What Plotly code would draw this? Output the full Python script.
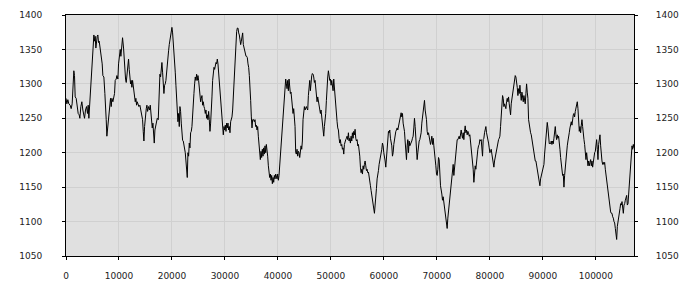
import plotly.graph_objects as go

# ---- values ----
seg1_x = [0,158,347,536,787,976,1165,1354,1480,1606,
          1732,1921,2110,2299,2488,2614,2802,2991,3180,3306,
          3495,3684,3873,4062,4188,4314,4440,4566,4755,4943,
          5132,5258,5384,5510,5636,5762,5888,6014,6140,6266,
          6392,6518,6644,6833,6958,7147,7336,7462,7588,7714,
          7840,8029,8218,8407,8533,8659,8848,8974,9162,9288,
          9477,9603,9792,9918,10107,10233,10359,10548,10674,10863,
          10989,11114,11240,11366,11492,11681,11807,11933,12059,12185,
          12311,12437,12563,12689,12815,12941,13067,13193,13318,13444,
          13633,13759,13948,14137,14326,14452,14578,14704,14830,14956,
          15145,15271,15396,15585,15774,15900,16026,16152,16278,16404,
          16530,16656,16782,16908,17097,17223,17411]
seg1_y = [1279,1271,1277,1271,1269,1264,1271,1300,1319,1312,
          1281,1279,1269,1257,1255,1250,1267,1274,1262,1255,
          1250,1262,1267,1257,1269,1250,1267,1286,1310,1333,
          1350,1371,1362,1369,1352,1364,1369,1371,1360,1362,
          1355,1348,1338,1329,1312,1310,1286,1271,1248,1224,
          1236,1248,1267,1279,1267,1279,1274,1281,1286,1305,
          1307,1312,1307,1329,1343,1350,1340,1362,1367,1352,
          1329,1310,1307,1302,1314,1329,1336,1321,1307,1300,
          1305,1295,1305,1298,1290,1286,1274,1279,1269,1274,
          1271,1267,1269,1262,1257,1248,1231,1217,1238,1252,
          1264,1269,1260,1267,1262,1269,1257,1248,1236,1243,
          1224,1214,1233,1240,1243,1250,1248]

seg2_x = [17473,17599,17725,17851,17977,18103,18229,18355,18480,18606,
          18732,18858,18984,19110,19236,19362,19488,19614,19740,19866,
          19992,20118,20244,20370,20496,20621,20747,20873,20999,21125,
          21251,21377,21503,21629,21755,21881,22007,22133,22259,22385,
          22511,22636,22762,22888,23014,23140,23266,23392,23518,23644,
          23770,23896,24022,24148,24274,24400,24526,24652,24777,24903,
          25029,25155,25281,25407,25533,25659,25785,25911,26037,26163,
          26289,26415,26541,26667,26792,26918,27044,27170,27296,27422,
          27548,27674,27800,27926,28052,28178,28304,28430,28556,28682,
          28808,28933,29059,29185,29311,29437,29563,29689,29815,29941,
          30067,30193,30319,30445,30571,30697,30823,30948,31074,31200,
          31326,31452,31578,31704,31830,31956,32082,32208,32334,32460,
          32586,32712,32838,32964,33089,33215,33341,33467,33593,33719,
          33845,33971,34097,34223,34349,34475,34601,34727,34853,34979,
          35105,35230]
seg2_y = [1262,1286,1314,1310,1324,1331,1317,1305,1286,1298,
          1300,1305,1319,1333,1338,1348,1357,1364,1371,1379,
          1382,1374,1362,1352,1338,1317,1298,1283,1264,1245,
          1257,1238,1267,1260,1243,1219,1218,1217,1212,1205,
          1200,1188,1176,1164,1200,1195,1214,1207,1229,1231,
          1238,1262,1274,1286,1300,1310,1305,1314,1305,1312,
          1305,1290,1288,1274,1279,1283,1269,1274,1267,1264,
          1257,1262,1250,1255,1248,1260,1248,1231,1243,1257,
          1281,1305,1317,1324,1321,1329,1331,1329,1336,1329,
          1317,1305,1293,1276,1262,1250,1238,1226,1238,1233,
          1240,1231,1243,1236,1243,1233,1238,1229,1245,1248,
          1252,1262,1281,1305,1331,1352,1367,1376,1381,1381,
          1374,1371,1364,1357,1362,1367,1374,1357,1352,1345,
          1343,1340,1340,1338,1329,1324,1312,1298,1276,1252,
          1236,1248]

seg3_x = [35419,35545,35671,35797,35923,36049,36174,36300,36426,36552,
          36678,36804,36930,37056,37182,37308,37434,37560,37686,37812,
          37938,38064,38190,38315,38441,38567,38693,38819,38945,39071,
          39197,39323,39449,39575,39701,39827,39953,40079,40205,40330,
          40456,40582,40708,40834,40960,41086,41212,41338,41464,41590,
          41716,41842,41968,42094,42220,42346,42471,42597,42723,42849,
          42975,43101,43227,43353,43479,43605,43731,43857,43983,44109,
          44235,44361,44487,44612,44738,44864,44990,45116,45242,45368,
          45494,45620,45746,45872,45998,46124,46250,46376,46502,46628,
          46753,46879,47005,47131,47257,47383,47509,47635,47761,47887,
          48013,48139,48265,48391,48517,48643,48769,48894,49020,49146,
          49272,49398,49524,49650,49776,49902,50028,50154,50280,50406,
          50532,50658,50784,50910,51035,51161,51287,51413,51539,51665,
          51791,51917,52043,52169,52295,52421,52547,52673,52798,52924,
          53050]
seg3_y = [1248,1245,1248,1238,1240,1233,1238,1224,1210,1200,
          1190,1202,1193,1205,1195,1207,1198,1210,1200,1212,
          1205,1195,1181,1167,1164,1169,1160,1167,1155,1164,
          1157,1167,1162,1169,1164,1162,1169,1160,1167,1181,
          1195,1212,1221,1238,1257,1274,1286,1293,1307,1300,
          1293,1305,1290,1307,1295,1286,1288,1276,1271,1257,
          1264,1255,1238,1200,1198,1205,1195,1202,1200,1193,
          1207,1210,1205,1217,1248,1257,1267,1262,1264,1267,
          1264,1262,1283,1293,1305,1290,1305,1312,1315,1314,
          1310,1302,1305,1293,1283,1274,1281,1276,1269,1262,
          1257,1262,1252,1243,1231,1224,1238,1245,1257,1276,
          1300,1310,1319,1312,1305,1307,1298,1305,1300,1290,
          1307,1293,1274,1262,1252,1245,1236,1233,1221,1214,
          1219,1210,1212,1205,1207,1198,1212,1217,1219,1221,
          1224]

seg4_x = [53176,53302,53428,53554,53680,53806,53932,54057,54183,54309,
          54435,54561,54687,54813,54939,55065,55191,55317,55443,55569,
          55695,55821,55947,56073,56198,56324,56450,56576,56702,56828,
          56954,57080,57206,57332,57458,57584,57710,57836,57962,58088,
          58213,58339,58465,58591,58717,58843,58969,59095,59221,59347,
          59473,59599,59725,59851,59977,60103,60229,60354,60480,60606,
          60732,60858,60984,61110,61236,61362,61488,61614,61740,61866,
          61992,62118,62244,62370,62495,62621,62747,62873,62999,63125,
          63251,63377,63503,63629,63755,63881,64007,64133,64259,64385,
          64511,64636,64762,64888,65014,65140,65266,65392,65518,65644,
          65770,65896,66022,66148,66274,66400,66526,66652,66777,66903,
          67029,67155,67281,67407,67533,67659,67785,67911,68037,68163,
          68289,68415,68541,68667,68793,68918,69044,69170,69296,69422,
          69548,69674,69800,69926,70052,70178,70304,70430,70556,70682]
seg4_y = [1219,1229,1217,1221,1214,1224,1217,1229,1221,1231,
          1226,1234,1221,1217,1219,1210,1212,1205,1195,1179,
          1171,1176,1169,1181,1176,1183,1188,1181,1174,1176,
          1171,1172,1167,1160,1152,1145,1138,1133,1129,1119,
          1112,1124,1133,1148,1162,1167,1174,1183,1188,1193,
          1202,1205,1214,1210,1200,1195,1188,1179,1195,1212,
          1226,1231,1229,1233,1221,1217,1210,1195,1200,1212,
          1221,1226,1231,1233,1236,1233,1238,1248,1252,1255,
          1258,1252,1257,1243,1238,1231,1217,1200,1190,1210,
          1219,1200,1217,1210,1212,1214,1217,1221,1224,1236,
          1250,1238,1224,1210,1190,1200,1214,1217,1219,1224,
          1229,1243,1252,1257,1267,1276,1262,1257,1248,1231,
          1226,1229,1224,1221,1212,1217,1224,1212,1221,1210,
          1195,1190,1181,1169,1167,1176,1193,1190,1167,1152]

seg5_x = [70932,71058,71184,71310,71436,71562,71688,71813,71939,72065,
          72191,72317,72443,72569,72695,72821,72947,73073,73199,73325,
          73451,73577,73703,73828,73954,74080,74206,74332,74458,74584,
          74710,74836,74962,75088,75214,75340,75466,75592,75718,75844,
          75969,76095,76221,76347,76473,76599,76725,76851,76977,77103,
          77229,77355,77481,77607,77733,77859,77985,78110,78236,78362,
          78488,78614,78740,78866,78992,79118,79244,79370,79496,79622,
          79748,79874,80000,80125,80251,80377,80503,80629,80755,80881,
          81007,81133,81259,81385,81511,81637,81763,81889,82015,82141,
          82266,82392,82518,82644,82770,82896,83022,83148,83274,83400,
          83526,83652,83778,83904,84030,84156,84282,84407,84533,84659,
          84785,84911,85037,85163,85289,85415,85541,85667,85793,85919,
          86045,86171,86297,86423,86548,86674,86800,86926,87052,87178,
          87304,87430,87556,87682,87808,87934,88060,88186,88311,88437,
          88563]
seg5_y = [1140,1131,1136,1129,1117,1114,1105,1098,1090,1105,
          1114,1124,1133,1148,1157,1167,1176,1183,1167,1176,
          1190,1202,1212,1219,1219,1221,1224,1220,1226,1233,
          1226,1221,1229,1219,1231,1239,1229,1233,1226,1231,
          1229,1224,1226,1217,1210,1202,1190,1176,1157,1171,
          1181,1176,1188,1200,1205,1210,1212,1219,1217,1219,
          1207,1195,1219,1221,1229,1233,1238,1229,1221,1217,
          1214,1207,1200,1202,1205,1198,1190,1186,1179,1188,
          1193,1200,1202,1210,1217,1219,1221,1224,1238,1252,
          1271,1283,1279,1267,1271,1267,1264,1274,1279,1274,
          1281,1271,1262,1255,1271,1279,1281,1286,1298,1305,
          1312,1310,1305,1295,1283,1293,1286,1298,1286,1276,
          1288,1281,1274,1283,1279,1271,1286,1300,1288,1279,
          1248,1240,1238,1229,1226,1219,1212,1205,1200,1195,
          1188]

seg6_x = [88689,88815,88941,89067,89193,89319,89444,89570,89696,89822,
          89948,90074,90200,90326,90452,90578,90704,90830,90956,91082,
          91208,91334,91460,91585,91711,91837,91963,92089,92215,92341,
          92467,92593,92719,92845,92971,93097,93223,93349,93475,93601,
          93726,93852,93978,94104,94230,94356,94482,94608,94734,94860,
          94986,95112,95238,95364,95490,95616,95742,95867,95993,96119,
          96245,96371,96497,96623,96749,96875,97001,97127,97253,97379,
          97505,97631,97757,97883,98008,98134,98260,98386,98512,98638,
          98764,98890,99016,99142,99268,99394,99520,99646,99772,99898,
          100024,100149,100275,100401,100527,100653,100779,100905,101031,101157,
          101283,101409,101535,101661,101787,101913,102039,102165,102290,102416,
          102542,102668,102794,102920,103046,103172,103298,103424,103550,103676,
          103802,103928,104054,104180,104306,104431,104557,104683,104809,104935,
          105061,105187,105313,105439,105565,105691,105817,105943,106069,106195,
          106321,106447,106572,106698,106824,106950,107076,107202]
seg6_y = [1188,1181,1176,1171,1164,1160,1152,1162,1167,1171,
          1176,1179,1183,1198,1210,1219,1236,1244,1236,1221,
          1213,1214,1213,1217,1212,1217,1213,1221,1231,1238,
          1226,1219,1226,1221,1224,1217,1205,1193,1183,1176,
          1167,1169,1150,1167,1181,1193,1205,1210,1217,1221,
          1229,1236,1240,1245,1240,1250,1255,1257,1252,1260,
          1267,1269,1274,1264,1248,1231,1238,1229,1240,1248,
          1238,1224,1219,1212,1200,1190,1200,1186,1181,1188,
          1181,1186,1190,1181,1188,1179,1188,1195,1200,1202,
          1210,1219,1205,1190,1212,1219,1226,1210,1193,1188,
          1183,1186,1183,1186,1176,1167,1160,1152,1150,1140,
          1124,1117,1114,1112,1112,1107,1105,1100,1098,1090,
          1083,1074,1093,1102,1110,1117,1119,1126,1124,1129,
          1119,1112,1124,1126,1131,1136,1138,1124,1126,1140,
          1157,1171,1186,1200,1210,1205,1212,1207]

x_ticks = [0, 10000, 20000, 30000, 40000, 50000, 60000, 70000, 80000, 90000, 100000]
y_ticks = [1050, 1100, 1150, 1200, 1250, 1300, 1350, 1400]
x_range = [0, 107200]
y_range = [1050, 1400]

x_all = seg1_x + seg2_x + seg3_x + seg4_x + seg5_x + seg6_x
y_all = seg1_y + seg2_y + seg3_y + seg4_y + seg5_y + seg6_y

FONT = dict(family="DejaVu Sans", size=9, color="#222222")

fig = go.Figure()
fig.add_trace(go.Scatter(x=x_all, y=y_all, mode="lines",
                         line=dict(color="#000000", width=1),
                         hoverinfo="skip", showlegend=False))
# same series on the right-hand axis (transparent) so that axis is drawn
fig.add_trace(go.Scatter(x=x_all, y=y_all, mode="lines", yaxis="y2",
                         line=dict(color="rgba(0,0,0,0)", width=0),
                         hoverinfo="skip", showlegend=False))

fig.update_layout(
    width=700, height=300,
    margin=dict(l=66, r=66, t=10, b=44),
    paper_bgcolor="#ffffff",
    plot_bgcolor="#e0e0e0",
    font=FONT,
    xaxis=dict(range=x_range, tickvals=x_ticks, tickformat="d",
               showgrid=True, gridcolor="#d0d0d0", gridwidth=1,
               zeroline=False, showline=True, linecolor="#000000", linewidth=1,
               mirror=True, ticks="outside", ticklen=3, tickcolor="#000000",
               ticklabelstandoff=8, tickfont=FONT),
    yaxis=dict(range=y_range, tickvals=y_ticks,
               showgrid=True, gridcolor="#d0d0d0", gridwidth=1,
               zeroline=False, showline=True, linecolor="#000000", linewidth=1,
               mirror=True, ticks="outside", ticklen=3, tickcolor="#000000",
               ticklabelstandoff=18, tickfont=FONT),
    yaxis2=dict(range=y_range, tickvals=y_ticks, overlaying="y", side="right",
                showgrid=False, zeroline=False, showline=True,
                linecolor="#000000", linewidth=1,
                ticks="outside", ticklen=3, tickcolor="#000000",
                ticklabelstandoff=16, tickfont=FONT),
)

fig.write_html("out.html")
